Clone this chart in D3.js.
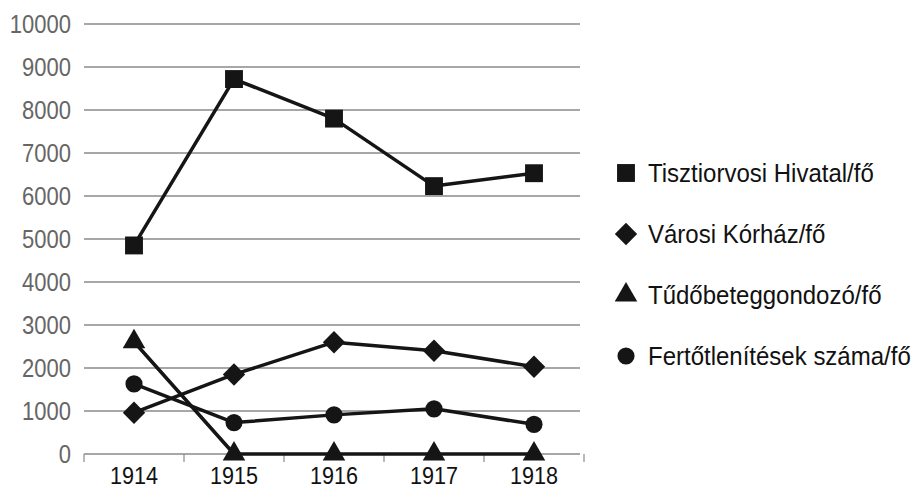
<!DOCTYPE html>
<html>
<head>
<meta charset="utf-8">
<script src="https://cdn.jsdelivr.net/npm/d3@7"></script>
<style>
  body { margin: 0; background: #fff; }
  text { font-family: "Liberation Sans", Arial, sans-serif; }
</style>
</head>
<body>
<svg id="chart" width="914" height="490"></svg>
<script>
// Data
const years = ["1914", "1915", "1916", "1917", "1918"];
const tisztiorvosi = [4850, 8720, 7800, 6230, 6530];
const varosi = [960, 1850, 2600, 2400, 2030];
const tudo = [2610, 0, 0, 0, 0];
const fertotlenites = [1630, 730, 910, 1050, 690];
const seriesNames = ["Tisztiorvosi Hivatal/fő", "Városi Kórház/fő", "Tűdőbeteggondozó/fő", "Fertőtlenítések száma/fő"];
const yTicks = [0, 1000, 2000, 3000, 4000, 5000, 6000, 7000, 8000, 9000, 10000];

const series = [
  { name: seriesNames[0], values: tisztiorvosi, shape: "square" },
  { name: seriesNames[1], values: varosi, shape: "diamond" },
  { name: seriesNames[2], values: tudo, shape: "triangle" },
  { name: seriesNames[3], values: fertotlenites, shape: "circle" }
];

const svg = d3.select("#chart");
const left = 84, right = 584;

const x = d3.scaleBand().domain(years).range([left, right]);
const y = d3.scaleLinear().domain([0, 10000]).range([454, 24]);

// gridlines
svg.append("g")
  .selectAll("line")
  .data(yTicks)
  .enter()
  .append("line")
  .attr("x1", left)
  .attr("x2", 580)
  .attr("y1", d => y(d))
  .attr("y2", d => y(d))
  .attr("stroke", "#8a8a8a")
  .attr("stroke-width", 1.5);

// y labels (font looks a bit condensed in the original)
svg.append("g")
  .selectAll("text")
  .data(yTicks)
  .enter()
  .append("text")
  .attr("transform", d => `translate(71,${y(d)}) scale(0.88,1)`)
  .attr("dy", "0.36em")
  .attr("text-anchor", "end")
  .style("fill", "#666")
  .style("font-size", "25px")
  .text(d => d);

// x labels
svg.append("g")
  .selectAll("text")
  .data(years)
  .enter()
  .append("text")
  .attr("transform", d => `translate(${x(d) + x.bandwidth() / 2},475) scale(0.9,1)`)
  .attr("dy", "0.36em")
  .attr("text-anchor", "middle")
  .style("fill", "#111")
  .style("font-size", "24px")
  .text(d => d);

// tick marks between categories
const edges = years.map(d => x(d)).concat([x.range()[1]]);
svg.append("g")
  .selectAll("line")
  .data(edges)
  .enter()
  .append("line")
  .attr("x1", d => d)
  .attr("x2", d => d)
  .attr("y1", y(0))
  .attr("y2", y(0) + 8)
  .attr("stroke", "#8a8a8a")
  .attr("stroke-width", 1.2);

function symbolPath(shape) {
  if (shape === "square") return d3.symbol(d3.symbolSquare, 320)();
  if (shape === "diamond") return d3.symbol(d3.symbolSquare, 250)();
  if (shape === "triangle") return d3.symbol(d3.symbolTriangle, 220)();
  return d3.symbol(d3.symbolCircle, 230)();
}
function symbolRotate(shape) {
  return shape === "diamond" ? " rotate(45)" : "";
}

const line = d3.line()
  .x((d, i) => x(years[i]) + x.bandwidth() / 2)
  .y(d => y(d));

series.forEach(s => {
  svg.append("path")
    .datum(s.values)
    .attr("fill", "none")
    .attr("stroke", "#151515")
    .attr("stroke-width", 3.5)
    .attr("stroke-linejoin", "round")
    .attr("d", line);

  svg.append("g")
    .selectAll("path")
    .data(s.values)
    .enter()
    .append("path")
    .attr("d", symbolPath(s.shape))
    .attr("transform", (d, i) => `translate(${x(years[i]) + x.bandwidth() / 2},${y(d)})` + symbolRotate(s.shape))
    .attr("fill", "#151515");
});

// Legend
const legend = svg.append("g").attr("transform", "translate(626,173)");
series.forEach((s, i) => {
  const row = legend.append("g").attr("transform", `translate(0,${i * 61})`);
  row.append("path")
    .attr("d", symbolPath(s.shape))
    .attr("transform", "translate(0,0)" + symbolRotate(s.shape))
    .attr("fill", "#151515");
  row.append("text")
    .attr("transform", "translate(22,0) scale(0.96,1)")
    .attr("dy", "0.36em")
    .style("fill", "#111")
    .style("font-size", "25px")
    .text(s.name);
});
</script>
</body>
</html>
